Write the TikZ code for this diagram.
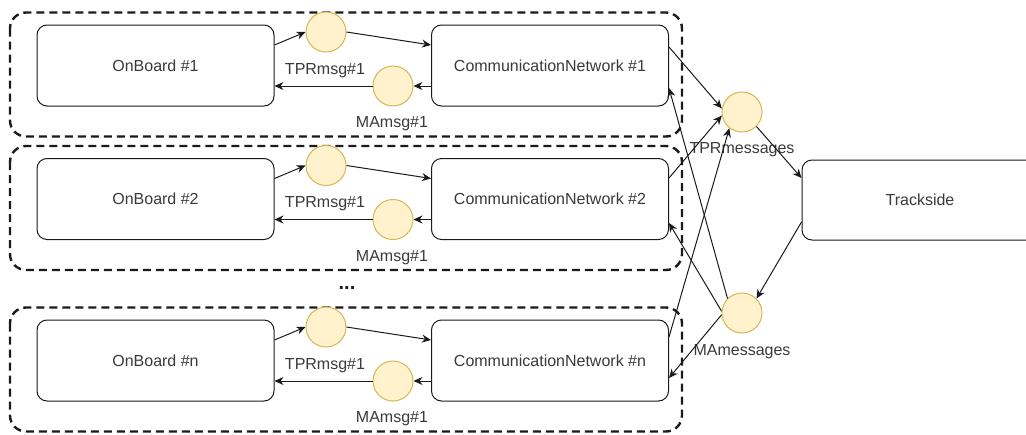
\documentclass[tikz,border=0pt]{standalone}
\usepackage{fontspec}
\setmainfont{Liberation Sans}
\usetikzlibrary{arrows.meta}
\definecolor{txt}{HTML}{3A3A3A}
\definecolor{cfill}{HTML}{FFF2CC}
\definecolor{cdraw}{HTML}{D6B656}
\definecolor{ln}{HTML}{1A1A1A}
\begin{document}
\begin{tikzpicture}[x=1pt,y=-1pt,
  box/.style={draw=ln, fill=white, line width=1pt, rounded corners=10pt, minimum width=237pt, minimum height=81pt, inner sep=0pt, text=txt, font=\fontsize{16}{19}\selectfont},
  msg/.style={circle, draw=cdraw, fill=cfill, line width=1pt, minimum size=40pt, inner sep=0pt},
  lbl/.style={text=txt, font=\fontsize{16}{19}\selectfont, inner sep=0pt},
  grp/.style={draw=ln, line width=2.4pt, dash pattern=on 8pt off 5pt, rounded corners=16pt},
  arr/.style={draw=ln, line width=1pt, -{Stealth[length=9pt,width=8pt]}}]
\useasboundingbox (0,0) rectangle (1026,434);
\clip (0,0) rectangle (1026,434);
\foreach \r/\Y/\n in {1/65.5/1, 2/199/2, 3/360.5/n}{
  \draw[grp] (10,{\Y-53}) rectangle (682,{\Y+71});
  \node[box] (ob\r) at (155.5,\Y) {OnBoard \#\n};
  \node[box] (cn\r) at (550,\Y) {CommunicationNetwork \#\n};
  \node[msg] (t\r) at (326,{\Y-33.5}) {};
  \node[msg] (m\r) at (393,{\Y+20.5}) {};
  \node[lbl] (tl\r) at (325,{\Y+5}) {TPRmsg\#1};
  \node[lbl] (ml\r) at (392,{\Y+58.5}) {MAmsg\#1};
  \draw[arr] ([yshift=20.5pt]ob\r.east) -- (t\r.west);
  \draw[arr] (t\r.east) -- ([yshift=20.5pt]cn\r.west);
  \draw[arr] ([yshift=-20.5pt]cn\r.west) -- (m\r.east);
  \draw[arr] (m\r.west) -- ([yshift=-20.5pt]ob\r.east);
}
\node[lbl, text=ln, font=\bfseries\fontsize{20}{22}\selectfont] (dots) at (347,288) {...};
\node[msg] (tprm) at (742,112) {};
\node[lbl] (tprml) at (742,150) {TPRmessages};
\node[msg] (mam) at (742,313) {};
\node[lbl] (maml) at (742,352) {MAmessages};
\node[box, minimum width=236pt, minimum height=80pt] (ts) at (920,200) {Trackside};
\draw[arr] ([yshift=18.5pt]cn1.east) -- (tprm.170);
\draw[arr] ([yshift=21pt]cn2.east) -- (tprm.190);
\draw[arr] ([yshift=23.5pt]cn3.east) -- (tprm.232);
\draw[arr] (tprm.315) -- ([yshift=22pt]ts.west);
\draw[arr] ([yshift=-22pt]ts.west) -- (mam.45);
\draw[arr] (mam.135) -- ([yshift=-22.5pt]cn1.east);
\draw[arr] (mam.175) -- ([yshift=-24pt]cn2.east);
\draw[arr] (mam.185) -- ([yshift=-17.5pt]cn3.east);
\end{tikzpicture}
\end{document}
